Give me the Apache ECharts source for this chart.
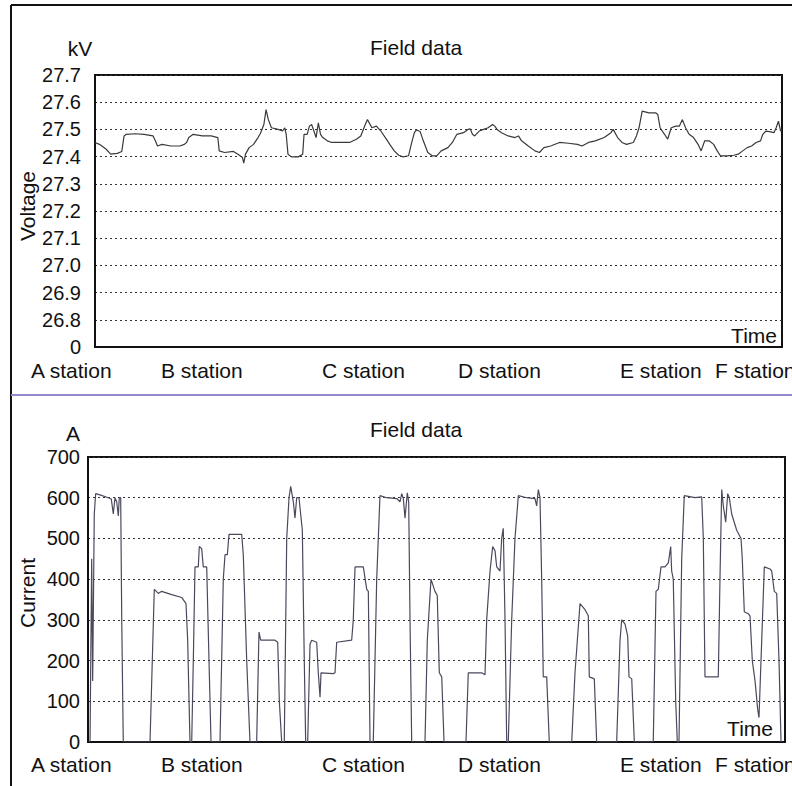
<!DOCTYPE html>
<html>
<head>
<meta charset="utf-8">
<script src="https://cdn.jsdelivr.net/npm/echarts@6/dist/echarts.min.js"></script>
<style>
  html, body { margin: 0; padding: 0; background: #fff; }
  #chart { width: 792px; height: 786px; }
</style>
</head>
<body>
<div id="chart"></div>
<script>
// station names under both panels
var stations = ['A station', 'B station', 'C station', 'D station', 'E station', 'F station'];

// voltage record, time in % of window, kV
var voltTime = [0, 0.65, 1.63, 2.28, 3.25, 3.9, 4.23, 4.55, 5.85, 7.15, 8.45, 8.78, 9.1, 9.75, 11.05, 12.35, 13, 13.33, 13.65, 14.3,
  15.6, 16.91, 17.88, 18.08, 18.86, 20.16, 20.81, 21.46, 21.65, 21.91, 22.43, 23.08, 23.73, 24.06, 24.58, 24.9, 25.23, 25.68, 26.66, 27.31,
  27.63, 27.83, 28.09, 28.61, 29.58, 30.23, 30.43, 30.88, 31.21, 31.53, 31.86, 32.18, 32.51, 32.83, 33.16, 33.81, 34.46, 35.76, 37.06, 38.04,
  38.69, 39.34, 39.66, 40.31, 40.96, 41.61, 42.26, 42.91, 43.56, 44.21, 44.86, 45.64, 46.03, 46.49, 46.81, 47.33, 47.79, 48.44, 49.09, 49.74,
  50.39, 51.37, 52.02, 52.67, 53.64, 54.29, 54.62, 54.94, 55.27, 55.92, 56.57, 57.22, 57.87, 58.19, 58.52, 59.17, 60.14, 61.12, 61.64, 62.09,
  63.07, 64.04, 64.69, 65.34, 66.32, 67.62, 68.92, 70.22, 70.87, 71.85, 72.82, 74.12, 75.1, 75.42, 76.07, 76.72, 77.37, 78.36, 78.81, 79.19,
  79.65, 80.62, 81.6, 81.92, 82.25, 82.9, 83.36, 83.88, 84.53, 85.05, 85.5, 85.96, 86.48, 87.13, 87.78, 88.23, 88.75, 89.4, 90.05, 90.57,
  91.03, 92, 92.98, 93.63, 94.28, 94.93, 95.58, 96.23, 96.88, 97.2, 97.66, 98.18, 98.83, 99.15, 99.48, 99.8, 100];
var voltValue = [27.452, 27.445, 27.427, 27.409, 27.412, 27.419, 27.476, 27.482, 27.484, 27.482, 27.476, 27.458, 27.439, 27.445, 27.439, 27.439, 27.445, 27.452, 27.47, 27.482,
  27.476, 27.476, 27.47, 27.421, 27.415, 27.419, 27.409, 27.397, 27.376, 27.409, 27.433, 27.445, 27.47, 27.484, 27.518, 27.573, 27.536, 27.506, 27.5, 27.494,
  27.506, 27.482, 27.409, 27.399, 27.399, 27.409, 27.482, 27.482, 27.512, 27.518, 27.494, 27.47, 27.524, 27.482, 27.47, 27.458, 27.452, 27.452, 27.452, 27.464,
  27.476, 27.518, 27.536, 27.506, 27.512, 27.494, 27.47, 27.445, 27.421, 27.405, 27.399, 27.403, 27.445, 27.488, 27.498, 27.492, 27.458, 27.415, 27.403, 27.403,
  27.421, 27.433, 27.452, 27.482, 27.488, 27.5, 27.502, 27.482, 27.476, 27.494, 27.5, 27.506, 27.518, 27.512, 27.5, 27.488, 27.476, 27.47, 27.476, 27.458,
  27.439, 27.421, 27.415, 27.433, 27.439, 27.452, 27.449, 27.445, 27.439, 27.452, 27.458, 27.47, 27.488, 27.5, 27.47, 27.452, 27.445, 27.452, 27.476, 27.506,
  27.567, 27.561, 27.561, 27.555, 27.506, 27.482, 27.464, 27.506, 27.512, 27.512, 27.536, 27.506, 27.482, 27.47, 27.445, 27.421, 27.458, 27.458, 27.445, 27.421,
  27.403, 27.403, 27.405, 27.409, 27.421, 27.433, 27.439, 27.452, 27.458, 27.482, 27.494, 27.492, 27.488, 27.506, 27.53, 27.494, 27.5];

// current record, time in % of window, A
var currTime = [0.29, 0.53, 0.67, 0.9, 1.1, 1.72, 2.91, 3.34, 3.63, 3.87, 4.12, 4.35, 4.49, 4.69, 4.84, 5.06, 8.9, 9.51, 10.09, 10.57,
  12.01, 13.44, 14.06, 14.3, 14.63, 14.88, 15.11, 15.35, 15.82, 15.97, 16.31, 16.54, 17.03, 17.36, 17.65, 18.94, 19.41, 19.66, 19.99, 20.23,
  22.05, 22.28, 22.77, 23.24, 24.2, 24.53, 24.78, 26.83, 27.22, 27.45, 27.79, 28.16, 28.51, 28.84, 29.08, 29.46, 29.7, 29.94, 30.27, 30.75,
  31.03, 31.23, 31.52, 31.85, 32.09, 32.81, 33.04, 33.29, 33.43, 35.19, 35.44, 35.68, 37.83, 38.06, 38.31, 39.5, 39.99, 40.22, 40.46, 40.93,
  41.42, 41.89, 42.85, 44.29, 44.76, 45.01, 45.24, 45.48, 45.81, 46.01, 46.2, 46.44, 48.35, 48.68, 49.21, 49.78, 50.11, 50.4, 50.75, 51.08,
  54.23, 54.56, 56.48, 56.96, 57.2, 57.68, 58.06, 58.39, 58.64, 59.11, 59.35, 59.58, 59.83, 60.07, 60.3, 60.79, 61.26, 61.74, 62.94, 64.13,
  64.37, 64.61, 64.85, 65.09, 65.32, 65.81, 66.18, 69.4, 69.87, 70.59, 71.31, 71.78, 71.92, 72.64, 72.98, 75.85, 76.33, 76.57, 77.04, 77.43,
  77.62, 78.01, 78.38, 81.1, 81.49, 81.82, 82.21, 82.78, 83.26, 83.6, 83.74, 83.97, 84.32, 84.55, 84.79, 85.18, 85.55, 87.09, 88.05, 88.28,
  88.52, 90.43, 90.67, 90.92, 91.15, 91.49, 91.78, 92.01, 92.35, 93.07, 93.69, 93.87, 94.16, 94.73, 94.98, 95.31, 95.7, 96.08, 96.27, 96.66,
  97.03, 97.85, 98.09, 98.46, 98.81, 99.14, 99.43];
var currValue = [0, 450, 150, 560, 610, 607, 600, 597, 560, 600, 590, 555, 600, 600, 300, 0, 0, 375, 365, 370,
  362, 355, 340, 250, 0, 0, 200, 430, 430, 480, 475, 430, 430, 200, 0, 0, 400, 460, 460, 510,
  510, 460, 200, 0, 0, 270, 250, 250, 245, 100, 0, 0, 500, 600, 628, 590, 550, 600, 600, 520,
  200, 0, 0, 240, 250, 245, 170, 110, 170, 168, 170, 245, 250, 300, 430, 430, 375, 370, 0, 0,
  400, 605, 600, 598, 590, 610, 598, 550, 612, 590, 300, 0, 0, 250, 400, 370, 360, 170, 160, 0,
  0, 170, 170, 165, 300, 420, 480, 470, 430, 420, 500, 525, 300, 0, 0, 300, 500, 605, 600, 598,
  580, 620, 600, 400, 160, 160, 0, 0, 170, 340, 325, 310, 160, 155, 0, 0, 250, 300, 290, 260,
  160, 155, 0, 0, 370, 375, 430, 430, 440, 480, 420, 400, 100, 0, 0, 450, 605, 600, 602, 500,
  160, 160, 400, 620, 580, 540, 610, 600, 560, 520, 500, 450, 320, 315, 310, 200, 150, 80, 60, 250,
  430, 425, 420, 370, 365, 200, 0];

// layout only (pixels)
var stationLeft = [31, 161, 322, 458, 620, 715];
var font = '21px "Liberation Sans", Arial, sans-serif';

function zip(a, b) {
    return a.map(function (t, i) { return [t, b[i]]; });
}

function txt(s, x, y, align, extra) {
    var el = {
        type: 'text', x: x, y: y, z: 10,
        style: { text: s, font: font, fill: '#111', align: align || 'left', verticalAlign: 'middle' }
    };
    if (extra) Object.assign(el, extra);
    return el;
}

var graphics = [
    { type: 'line', shape: { x1: 11, y1: 5, x2: 792, y2: 5 }, style: { stroke: '#111', lineWidth: 2 } },
    { type: 'line', shape: { x1: 11, y1: 5, x2: 11, y2: 786 }, style: { stroke: '#111', lineWidth: 2 } },
    { type: 'line', shape: { x1: 11, y1: 395, x2: 792, y2: 395 }, style: { stroke: '#9488cf', lineWidth: 2 } },
    txt('kV', 80, 48, 'center'),
    txt('Field data', 370, 47),
    txt('Voltage', 27, 206, 'center', { rotation: Math.PI / 2 }),
    txt('Time', 777, 335, 'right'),
    txt('A', 73, 433, 'center'),
    txt('Field data', 370, 429),
    txt('Current', 27, 593, 'center', { rotation: Math.PI / 2 }),
    txt('Time', 773, 728, 'right')
];
stations.forEach(function (s, i) {
    graphics.push(txt(s, stationLeft[i], 370));
    graphics.push(txt(s, stationLeft[i], 764));
});

var myChart = echarts.init(document.getElementById('chart'), null, { renderer: 'svg' });

var splitDotted = { show: true, lineStyle: { color: '#333', type: [2, 3], width: 1 } };

var option = {
    backgroundColor: '#fff',
    animation: false,
    grid: [
        { left: 95, top: 75, width: 687, height: 272, show: true, borderColor: '#111', borderWidth: 2 },
        { left: 88, top: 457, width: 697, height: 285, show: true, borderColor: '#111', borderWidth: 2 }
    ],
    xAxis: [
        { gridIndex: 0, type: 'value', min: 0, max: 100, axisLabel: { show: false }, axisTick: { show: false },
          splitLine: { show: false }, axisLine: { lineStyle: { color: '#111', width: 2 } } },
        { gridIndex: 1, type: 'value', min: 0, max: 100, axisLabel: { show: false }, axisTick: { show: false },
          splitLine: { show: false }, axisLine: { lineStyle: { color: '#111', width: 2 } } }
    ],
    yAxis: [
        { gridIndex: 0, type: 'value', min: 26.7, max: 27.7, interval: 0.1,
          axisLine: { show: true, lineStyle: { color: '#111', width: 2 } }, axisTick: { show: false },
          axisLabel: { color: '#111', fontSize: 20, fontFamily: '"Liberation Sans", Arial', margin: 14,
              formatter: function (v) { return v < 26.75 ? '0' : v.toFixed(1); } },
          splitLine: splitDotted },
        { gridIndex: 1, type: 'value', min: 0, max: 700, interval: 100,
          axisLine: { show: true, lineStyle: { color: '#111', width: 2 } }, axisTick: { show: false },
          axisLabel: { color: '#111', fontSize: 20, fontFamily: '"Liberation Sans", Arial', margin: 8 },
          splitLine: splitDotted }
    ],
    series: [
        { type: 'line', xAxisIndex: 0, yAxisIndex: 0, data: zip(voltTime, voltValue), showSymbol: false,
          lineStyle: { color: '#3a3a3a', width: 1.2 } },
        { type: 'line', xAxisIndex: 1, yAxisIndex: 1, data: zip(currTime, currValue), showSymbol: false,
          lineStyle: { color: '#4a4a5e', width: 1.2 } }
    ],
    graphic: graphics
};

myChart.setOption(option);
</script>
</body>
</html>
